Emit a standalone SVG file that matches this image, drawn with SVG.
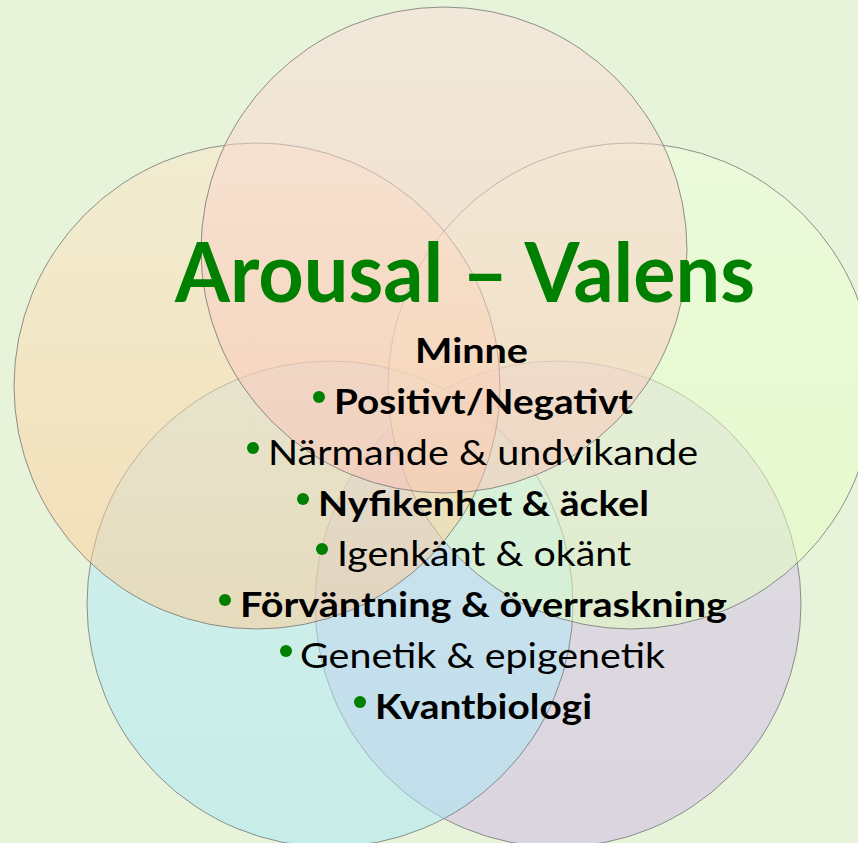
<svg xmlns="http://www.w3.org/2000/svg" width="858" height="843" viewBox="0 0 858 843">
  <defs>
    <linearGradient id="gTop" x1="0" y1="0" x2="0" y2="1">
      <stop offset="0" stop-color="#FADDDA"/>
      <stop offset="1" stop-color="#FBC2B4"/>
    </linearGradient>
    <linearGradient id="gLeft" x1="0" y1="0" x2="0" y2="1">
      <stop offset="0" stop-color="#FAE6C8"/>
      <stop offset="1" stop-color="#FFC890"/>
    </linearGradient>
    <linearGradient id="gRight" x1="0" y1="0" x2="0" y2="1">
      <stop offset="0" stop-color="#EEFFDA"/>
      <stop offset="1" stop-color="#E2FFBC"/>
    </linearGradient>
    <linearGradient id="gCyan" x1="0" y1="0" x2="0" y2="1">
      <stop offset="0" stop-color="#BCECFE"/>
      <stop offset="1" stop-color="#A6E6F6"/>
    </linearGradient>
    <linearGradient id="gPurple" x1="0" y1="0" x2="0" y2="1">
      <stop offset="0" stop-color="#D8C6E8"/>
      <stop offset="1" stop-color="#CCB6E4"/>
    </linearGradient>
  </defs>
  <style>
    .c { fill-opacity: 0.5; stroke: #6e6e6e; stroke-opacity: 0.75; stroke-width: 1; }
    .title { font-family: Lato, "Open Sans", "Liberation Sans", sans-serif; font-weight: 700; font-size: 82px; fill: #008000; }
    .t { font-family: Lato, "Open Sans", "Liberation Sans", sans-serif; font-size: 35px; fill: #000000; }
    .b { font-weight: 700; }
    .dot { fill: #008000; }
  </style>
  <rect x="0" y="0" width="858" height="843" fill="#E8F4DA"/>

  <g id="circle-purple"><circle class="c" cx="558" cy="604" r="243" fill="url(#gPurple)"/></g>
  <g id="circle-cyan"><circle class="c" cx="330" cy="604" r="243" fill="url(#gCyan)"/></g>
  <g id="circle-green"><circle class="c" cx="631" cy="386" r="243" fill="url(#gRight)"/></g>
  <g id="circle-orange"><circle class="c" cx="257" cy="386" r="243" fill="url(#gLeft)"/></g>
  <g id="circle-pink"><circle class="c" cx="444" cy="250" r="243" fill="url(#gTop)"/></g>

  <g id="title">
    <text class="title" x="175" y="302" textLength="580" lengthAdjust="spacingAndGlyphs">Arousal – Valens</text>
  </g>

  <g id="list">
    <text class="t b" x="415" y="363" textLength="113" lengthAdjust="spacingAndGlyphs">Minne</text>

    <circle class="dot" cx="319" cy="397" r="6"/>
    <text class="t b" x="334" y="414" textLength="299" lengthAdjust="spacingAndGlyphs">Positivt/Negativt</text>

    <circle class="dot" cx="253" cy="448" r="6"/>
    <text class="t" x="268" y="465" textLength="430" lengthAdjust="spacingAndGlyphs">Närmande &amp; undvikande</text>

    <circle class="dot" cx="303" cy="499" r="6"/>
    <text class="t b" x="318" y="516" textLength="331" lengthAdjust="spacingAndGlyphs">Nyfikenhet &amp; äckel</text>

    <circle class="dot" cx="322" cy="549" r="6"/>
    <text class="t" x="337" y="566" textLength="294" lengthAdjust="spacingAndGlyphs">Igenkänt &amp; okänt</text>

    <circle class="dot" cx="225" cy="600" r="6"/>
    <text class="t b" x="240" y="617" textLength="487" lengthAdjust="spacingAndGlyphs">Förväntning &amp; överraskning</text>

    <circle class="dot" cx="286" cy="651" r="6"/>
    <text class="t" x="300" y="668" textLength="365" lengthAdjust="spacingAndGlyphs">Genetik &amp; epigenetik</text>

    <circle class="dot" cx="360" cy="702" r="6"/>
    <text class="t b" x="375" y="719" textLength="217" lengthAdjust="spacingAndGlyphs">Kvantbiologi</text>
  </g>
</svg>
